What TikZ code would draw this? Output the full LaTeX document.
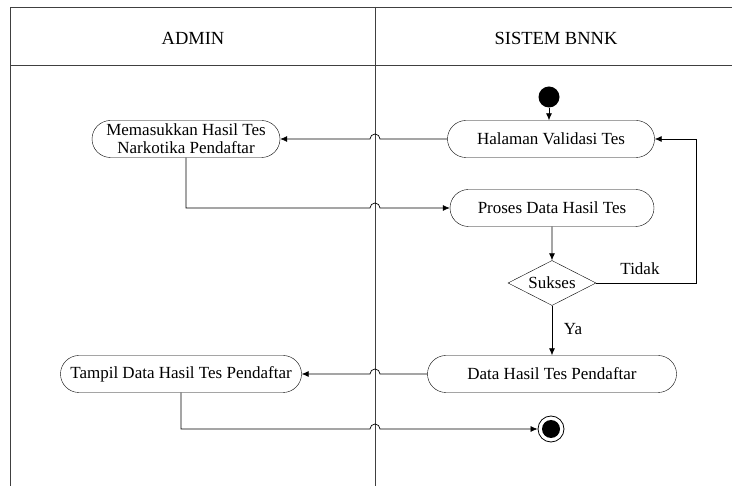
\documentclass[tikz,border=0pt]{standalone}
\usepackage{fontspec}
\setmainfont{Liberation Serif}
\usetikzlibrary{shapes.geometric,shapes.misc,arrows.meta}

\tikzset{
  activity/.style={draw, rounded rectangle, minimum height=37pt, inner sep=2pt,
    align=center, font=\fontsize{17}{17}\selectfont},
  decision/.style={draw, diamond, aspect=2, inner sep=0pt, minimum width=88pt,
    minimum height=45pt, font=\fontsize{17}{17}\selectfont},
  lane/.style={draw=black!75, line width=0.9pt},
  flow/.style={draw, line width=0.7pt, -{Latex[length=7pt,width=6pt]}},
  startnode/.style={circle, fill, inner sep=0pt, minimum size=21pt},
  endnode/.style={circle, draw, line width=0.8pt, inner sep=0pt, minimum size=26pt,
    path picture={\fill (path picture bounding box.center) circle (9pt);}},
  label/.style={font=\fontsize{17}{17}\selectfont},
  header/.style={font=\fontsize{18.5}{18.5}\selectfont}
}

\begin{document}
\begin{tikzpicture}[x=1pt,y=1pt]
\useasboundingbox (0,0) rectangle (732,-486);

% swimlanes
\draw[lane] (732,-7) -- (10,-7) -- (10,-486);
\draw[lane] (10,-65) -- (732,-65);
\draw[lane] (375,-7) -- (375,-486);
\coordinate (divider) at (375,0);
\node[header] (admin) at (193,-38) {ADMIN};
\node[header] (sistem) at (556,-38) {SISTEM BNNK};

% activities
\node[startnode] (start) at (549,-97) {};
\node[activity, minimum width=211pt] (halaman) at (551,-139) {Halaman Validasi Tes};
\node[activity, minimum width=192pt] (input) at (186,-139) {Memasukkan Hasil Tes\\[1pt]Narkotika Pendaftar};
\node[activity, minimum width=208pt] (proses) at (552,-208) {Proses Data Hasil Tes};
\node[decision] (sukses) at (552,-283) {Sukses};
\node[activity, minimum width=253pt] (data) at (552,-374) {Data Hasil Tes Pendaftar};
\node[activity, minimum width=245pt] (tampil) at (181,-374) {Tampil Data Hasil Tes Pendaftar};
\node[endnode] (end) at (551,-429) {};
\coordinate (loop) at (696,0);

% flows
\draw[flow] (start) -- (start |- halaman.north);
\draw[flow] (halaman.west) -- ([xshift=5pt]halaman.west -| divider)
  arc[start angle=0, end angle=180, radius=5pt] -- (input.east);
\draw[flow] (input.south) |- ([xshift=-5pt]proses.west -| divider)
  arc[start angle=180, end angle=0, radius=5pt] -- (proses.west);
\draw[flow] (proses) -- (sukses);
\draw[flow] (sukses.east) -- (sukses.east -| loop) |- (halaman.east);
\node[label] (tidak) at (640,-269) {Tidak};
\draw[flow] (sukses) -- (data);
\node[label] (ya) at (573,-329) {Ya};
\draw[flow] (data.west) -- ([xshift=5pt]data.west -| divider)
  arc[start angle=0, end angle=180, radius=5pt] -- (tampil.east);
\draw[flow] (tampil.south) |- ([xshift=-5pt]end.west -| divider)
  arc[start angle=180, end angle=0, radius=5pt] -- (end.west);
\end{tikzpicture}
\end{document}
